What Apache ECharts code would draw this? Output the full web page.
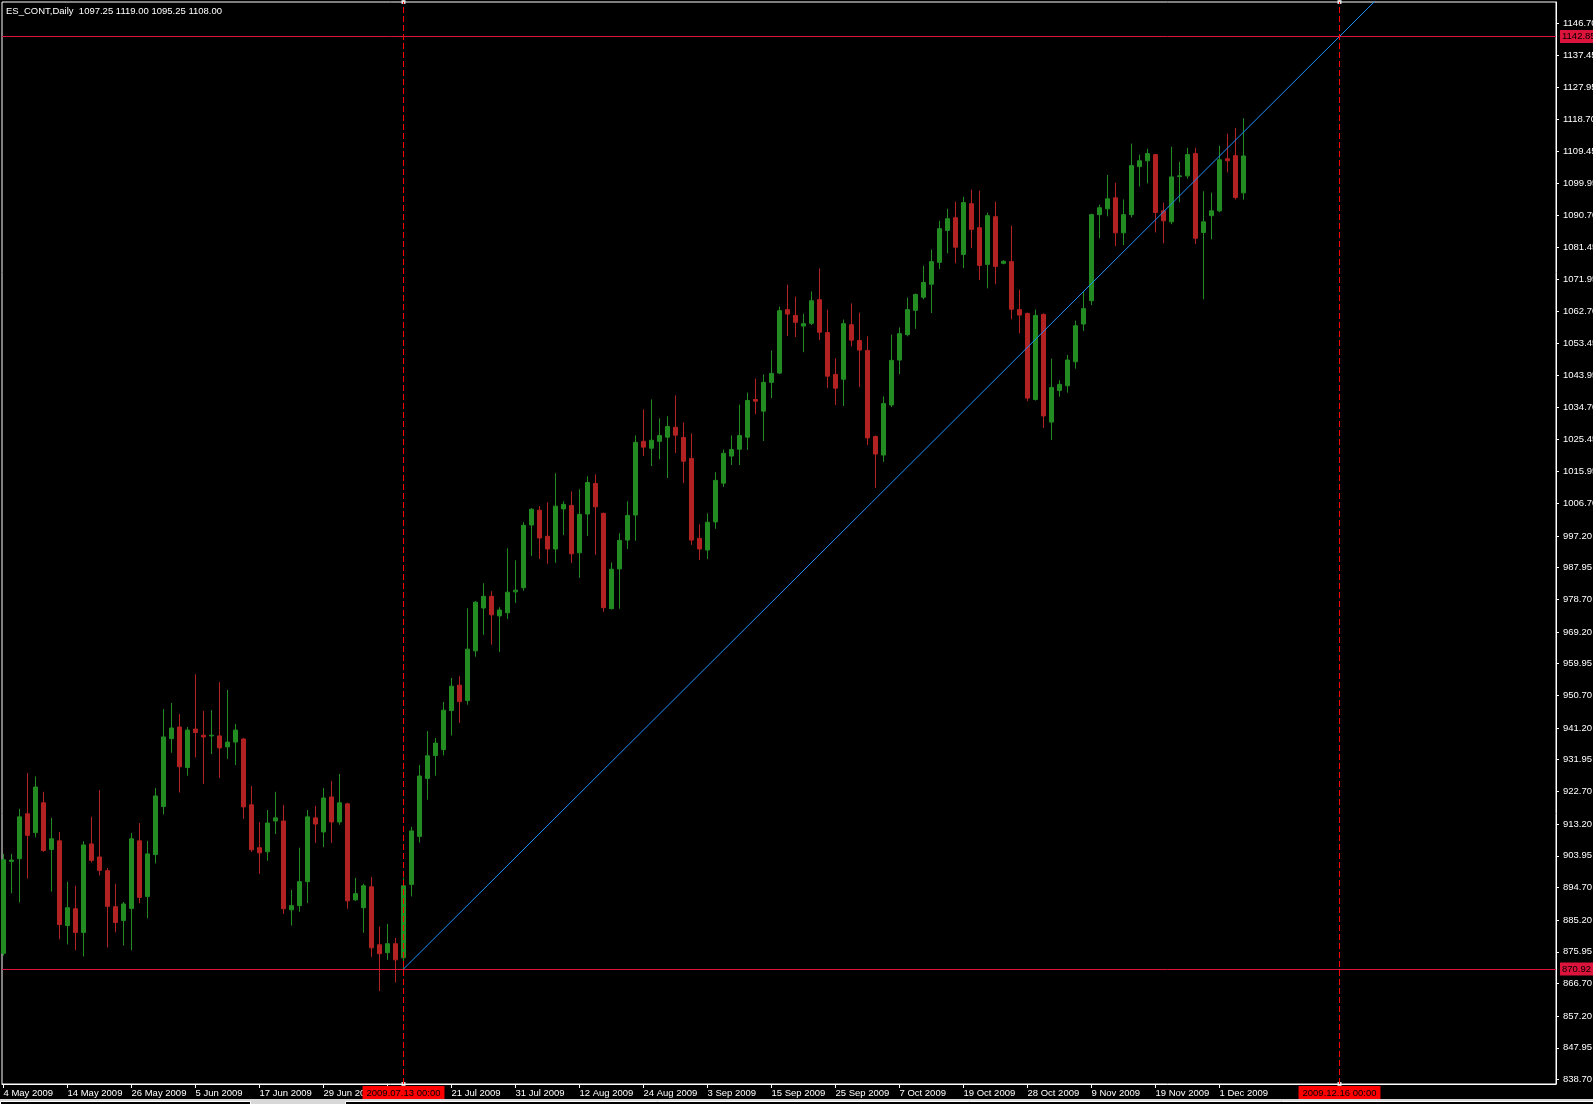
<!DOCTYPE html>
<html><head><meta charset="utf-8">
<script src="https://cdn.jsdelivr.net/npm/echarts@6/dist/echarts.min.js"></script>
<style>html,body{margin:0;padding:0;background:#000;}#c{width:1593px;height:1104px;}</style>
</head><body><div id="c"></div>
<script>
const symbolName = 'ES_CONT';
const timeframe = 'Daily';
const dates = [
'2009.05.04','2009.05.05','2009.05.06','2009.05.07','2009.05.08','2009.05.11','2009.05.12','2009.05.13','2009.05.14','2009.05.15',
'2009.05.18','2009.05.19','2009.05.20','2009.05.21','2009.05.22','2009.05.25','2009.05.26','2009.05.27','2009.05.28','2009.05.29',
'2009.06.01','2009.06.02','2009.06.03','2009.06.04','2009.06.05','2009.06.08','2009.06.09','2009.06.10','2009.06.11','2009.06.12',
'2009.06.15','2009.06.16','2009.06.17','2009.06.18','2009.06.19','2009.06.22','2009.06.23','2009.06.24','2009.06.25','2009.06.26',
'2009.06.29','2009.06.30','2009.07.01','2009.07.02','2009.07.03','2009.07.06','2009.07.07','2009.07.08','2009.07.09','2009.07.10',
'2009.07.13','2009.07.14','2009.07.15','2009.07.16','2009.07.17','2009.07.20','2009.07.21','2009.07.22','2009.07.23','2009.07.24',
'2009.07.27','2009.07.28','2009.07.29','2009.07.30','2009.07.31','2009.08.03','2009.08.04','2009.08.05','2009.08.06','2009.08.07',
'2009.08.10','2009.08.11','2009.08.12','2009.08.13','2009.08.14','2009.08.17','2009.08.18','2009.08.19','2009.08.20','2009.08.21',
'2009.08.24','2009.08.25','2009.08.26','2009.08.27','2009.08.28','2009.08.31','2009.09.01','2009.09.02','2009.09.03','2009.09.04',
'2009.09.07','2009.09.08','2009.09.09','2009.09.10','2009.09.11','2009.09.14','2009.09.15','2009.09.16','2009.09.17','2009.09.18',
'2009.09.21','2009.09.22','2009.09.23','2009.09.24','2009.09.25','2009.09.28','2009.09.29','2009.09.30','2009.10.01','2009.10.02',
'2009.10.05','2009.10.06','2009.10.07','2009.10.08','2009.10.09','2009.10.12','2009.10.13','2009.10.14','2009.10.15','2009.10.16',
'2009.10.19','2009.10.20','2009.10.21','2009.10.22','2009.10.23','2009.10.25','2009.10.26','2009.10.27','2009.10.28','2009.10.29',
'2009.10.30','2009.11.02','2009.11.03','2009.11.04','2009.11.05','2009.11.06','2009.11.09','2009.11.10','2009.11.11','2009.11.12',
'2009.11.13','2009.11.16','2009.11.17','2009.11.18','2009.11.19','2009.11.20','2009.11.23','2009.11.24','2009.11.25','2009.11.26',
'2009.11.27','2009.11.30','2009.12.01','2009.12.02','2009.12.03','2009.12.04'
];
const openP = [
875.5,902.3,903.1,916.2,910.7,919.4,905.8,908.3,883.6,888.5,
881.6,907.4,903.6,899.6,889.1,885.1,888.6,908.3,892.1,904.3,
918.3,938.1,941.5,929.7,940.9,939.1,938.9,938.9,935.7,937.1,
938.0,918.8,906.3,905.1,914.1,914.1,888.2,889.4,896.4,915.0,
910.9,921.1,913.8,919.1,891.1,888.8,894.9,878.0,875.7,878.3,
874.2,895.6,909.6,926.5,933.2,934.9,946.3,953.7,949.2,963.7,
976.2,979.6,973.9,974.8,980.9,982.1,1000.4,1004.7,997.1,993.4,
1005.1,1006.1,992.3,1003.6,1012.5,1003.8,976.0,987.6,996.0,1003.3,
1024.8,1022.8,1024.8,1026.0,1028.9,1025.9,1019.8,996.5,993.1,1001.3,
1012.6,1020.5,1022.5,1026.0,1037.0,1033.6,1042.0,1044.7,1063.2,1061.5,
1058.4,1059.2,1066.1,1056.5,1044.3,1042.9,1058.8,1054.2,1051.3,1026.2,
1020.8,1035.4,1048.5,1055.9,1063.0,1066.8,1070.6,1077.0,1086.3,1090.0,
1079.3,1094.1,1087.1,1076.4,1090.3,1076.7,1077.2,1063.2,1062.1,1037.0,
1061.8,1030.4,1039.6,1041.0,1048.0,1059.0,1065.8,1090.9,1092.6,1095.8,
1085.6,1090.9,1104.9,1106.6,1108.4,1092.0,1088.8,1102.0,1102.2,1108.7,
1085.7,1090.6,1092.0,1107.2,1108.1,1097.25
];
const highP = [
904.5,904.5,917.6,928.1,927.1,922.6,915.0,910.9,896.4,895.2,
908.2,915.3,923.1,900.4,895.8,890.5,910.6,913.5,908.3,923.7,
946.7,948.5,945.3,941.5,956.9,946.2,946.4,954.6,952.3,942.4,
938.3,924.3,913.8,917.3,922.6,918.8,894.0,906.3,917.3,918.5,
923.7,925.8,927.8,919.4,897.5,895.8,897.8,883.3,884.1,880.0,
897.6,912.4,930.4,940.3,938.3,948.8,955.8,956.3,976.1,978.2,
983.4,981.1,976.4,993.6,990.1,1001.2,1005.3,1005.9,1007.0,1015.5,
1007.3,1010.2,1010.8,1014.6,1015.2,1004.0,989.5,998.0,1007.3,1026.5,
1034.1,1037.0,1031.5,1032.1,1038.2,1030.3,1027.1,1000.6,1003.8,1015.8,
1022.4,1026.5,1035.5,1039.0,1043.1,1044.3,1051.3,1064.1,1070.5,1067.0,
1062.0,1068.5,1075.2,1063.2,1049.0,1060.3,1065.0,1062.3,1055.4,1026.5,
1037.9,1055.9,1058.0,1066.7,1067.9,1076.0,1080.7,1089.1,1092.6,1094.7,
1096.1,1098.2,1097.9,1091.5,1094.7,1077.6,1087.7,1069.0,1062.3,1063.2,
1062.1,1048.9,1042.6,1050.0,1060.0,1068.4,1091.2,1093.8,1102.5,1100.2,
1095.3,1111.6,1108.4,1110.1,1108.6,1094.4,1110.7,1106.3,1110.4,1110.4,
1097.7,1097.3,1111.0,1114.5,1116.2,1119.00
];
const lowP = [
874.8,893.0,890.3,897.3,909.3,905.1,893.5,879.6,878.1,876.4,
874.6,902.0,898.2,877.2,881.6,877.8,876.4,890.1,885.7,901.7,
916.0,934.0,922.4,927.3,932.6,924.9,933.6,926.6,932.2,930.4,
914.7,905.1,898.7,902.5,910.3,887.0,883.6,887.6,890.2,907.7,
906.5,907.7,913.0,888.5,890.8,881.5,874.5,864.5,873.6,867.0,
870.92,892.1,907.8,920.3,927.3,933.2,939.0,942.7,948.0,962.0,
968.4,965.5,963.4,973.0,977.7,981.2,991.4,990.5,989.1,989.4,
997.5,989.3,985.0,997.2,991.7,975.1,975.8,976.0,993.4,995.8,
1020.5,1017.6,1019.6,1014.1,1021.4,1012.6,994.6,990.2,990.5,999.3,
1011.5,1017.9,1017.9,1022.3,1032.7,1024.9,1037.4,1044.4,1055.5,1055.2,
1050.8,1058.7,1054.3,1040.3,1035.4,1035.1,1052.5,1040.6,1023.7,1011.2,
1018.8,1034.8,1044.4,1055.4,1057.6,1066.2,1062.2,1075.0,1079.6,1076.7,
1075.3,1081.1,1071.8,1069.4,1070.6,1076.4,1060.4,1056.3,1036.5,1036.7,
1028.7,1025.2,1037.8,1039.0,1046.0,1057.0,1064.5,1084.0,1090.4,1081.7,
1082.0,1090.1,1099.1,1100.0,1085.7,1082.5,1088.1,1094.5,1101.4,1082.3,
1066.2,1083.7,1091.6,1103.2,1095.3,1095.25
];
const closeP = [
902.8,902.7,915.3,909.9,924.0,905.5,908.9,883.9,888.8,881.6,
907.1,902.6,899.7,889.2,884.5,889.9,908.9,891.8,904.5,921.4,
938.6,941.2,929.9,940.6,939.9,938.6,939.1,935.4,937.1,940.6,
918.2,905.7,904.8,913.5,915.0,888.5,889.4,896.4,915.3,913.2,
920.8,913.8,919.4,890.8,892.9,895.2,877.1,875.4,878.3,873.6,
895.2,911.2,927.2,933.1,936.8,946.4,953.4,948.9,964.2,977.9,
979.6,974.2,975.6,980.8,981.4,1000.3,1005.0,996.6,993.4,1005.9,
1006.4,992.0,1003.5,1012.8,1005.7,976.3,987.5,995.9,1003.2,1024.5,
1023.1,1025.1,1026.5,1029.1,1026.6,1019.0,996.0,993.4,1001.2,1013.4,
1021.3,1022.4,1026.5,1036.7,1036.5,1042.0,1044.6,1062.9,1061.9,1059.5,
1059.1,1065.8,1056.6,1043.8,1040.3,1059.1,1054.3,1051.4,1025.8,1021.1,
1035.8,1048.4,1056.2,1063.2,1067.6,1071.1,1077.2,1086.8,1089.7,1081.4,
1094.4,1086.6,1076.1,1090.6,1075.8,1077.3,1063.3,1061.6,1037.4,1061.5,
1032.2,1040.5,1041.4,1048.5,1058.5,1063.5,1090.9,1092.9,1095.5,1085.6,
1090.9,1105.2,1106.6,1108.7,1091.5,1089.1,1101.9,1102.2,1108.4,1084.0,
1088.8,1092.0,1106.9,1106.6,1095.9,1108.00
];
const xTickIdx = [0,8,16,24,32,40,48,56,64,72,80,88,96,104,112,120,128,136,144,152];
const yTickLabels = [838.70,847.95,857.20,866.70,875.95,885.20,894.70,903.95,913.20,922.70,931.95,941.20,950.70,959.95,969.20,978.70,987.95,997.20,1006.70,1015.95,1025.45,1034.70,1043.95,1053.45,1062.70,1071.95,1081.45,1090.70,1099.95,1109.45,1118.70,1127.95,1137.45,1146.70];
const hLevels = [1142.85, 870.92];
const trendStart = {date: '2009.07.13', price: 870.92};
const trendEnd = {date: '2009.12.16', price: 1142.85};
const vLines = ['2009.07.13', '2009.12.16'];

// ---- helpers ----
const months = ['Jan','Feb','Mar','Apr','May','Jun','Jul','Aug','Sep','Oct','Nov','Dec'];
function toDate(s){const p=s.split('.');return Date.UTC(+p[0],+p[1]-1,+p[2]);}
function dateIndex(s){
  const k = dates.indexOf(s);
  if (k >= 0) return k;
  const last = dates.length - 1;
  return last + Math.round((toDate(s) - toDate(dates[last])) / 86400000);
}
function fmtLabel(s){const p=s.split('.');return (+p[2])+' '+months[+p[1]-1]+' '+p[0];}

const FONT = 'Liberation Sans';
const FS = 9.5;
const gridL = 2, gridT = 2, gridW = 1554, gridH = 1082;
const barStep = 8;
const xMin = -(1.5 / barStep);
const xMax = xMin + gridW / barStep;
const yMin = 837.4, yMax = 1152.9;

const candles = dates.map((d, i) => [i, openP[i], closeP[i], lowP[i], highP[i]]);

const t0 = dateIndex(trendStart.date), t1 = dateIndex(trendEnd.date);
const slope = (trendEnd.price - trendStart.price) / (t1 - t0);
const trendData = [[t0, trendStart.price], [t1, trendEnd.price], [xMax, trendEnd.price + slope * (xMax - t1)]];

const last = dates.length - 1;
const axisLblStyle = {color: '#000', fontFamily: FONT, fontSize: FS, padding: [2, 3, 1, 2]};

const markLineData = [
  ...hLevels.map(v => ({yAxis: v, lineStyle: {color: '#dc143c', width: 1, type: 'solid'},
    label: Object.assign({show: true, position: 'end', distance: 4, formatter: v.toFixed(2), backgroundColor: '#dc143c'}, axisLblStyle)})),
  {yAxis: closeP[last], lineStyle: {opacity: 0},
    label: Object.assign({show: true, position: 'end', distance: 4, formatter: closeP[last].toFixed(2), backgroundColor: '#ffffff'}, axisLblStyle)},
  ...vLines.map(d => ({xAxis: dateIndex(d), lineStyle: {color: '#ff0000', width: 1, type: [6, 3]},
    label: Object.assign({show: true, position: 'start', distance: 2, formatter: d + ' 00:00', backgroundColor: '#ff0000'}, axisLblStyle, {padding: [2, 4, 1, 4]})}))
];

const handles = [];
vLines.forEach(d => { handles.push([dateIndex(d), yMax]); handles.push([dateIndex(d), yMin]); });

const chart = echarts.init(document.getElementById('c'), null, {renderer: 'canvas'});
chart.setOption({
  animation: false,
  backgroundColor: '#000',
  grid: {left: gridL, top: gridT, width: gridW, height: gridH, show: true, borderColor: '#ffffff', borderWidth: 1,
    backgroundColor: '#000', containLabel: false, outerBoundsMode: 'none'},
  xAxis: {
    type: 'value', min: xMin, max: xMax,
    axisLine: {show: true, onZero: false, lineStyle: {color: '#ffffff', width: 1}},
    splitLine: {show: false},
    axisTick: {show: true, customValues: xTickIdx, length: 4, lineStyle: {color: '#ffffff'}},
    axisLabel: {show: true, customValues: xTickIdx, formatter: v => fmtLabel(dates[Math.round(v)]),
      color: '#ffffff', fontFamily: FONT, fontSize: FS, align: 'left', margin: 4}
  },
  yAxis: {
    type: 'value', position: 'right', min: yMin, max: yMax, scale: true,
    axisLine: {show: true, onZero: false, lineStyle: {color: '#ffffff', width: 1}},
    splitLine: {show: false},
    axisTick: {show: true, customValues: yTickLabels, length: 3, lineStyle: {color: '#ffffff'}},
    axisLabel: {show: true, customValues: yTickLabels, formatter: v => v.toFixed(2),
      color: '#ffffff', fontFamily: FONT, fontSize: FS, margin: 7}
  },
  series: [
    {
      type: 'candlestick', name: symbolName, data: candles,
      encode: {x: 0, y: [1, 2, 3, 4]},
      barWidth: 4,
      itemStyle: {color: '#228b22', color0: '#b22222', borderColor: '#228b22', borderColor0: '#b22222', borderWidth: 1},
      markLine: {silent: true, symbol: ['none', 'none'], animation: false, data: markLineData}
    },
    {
      type: 'line', name: 'trend', data: trendData, symbol: 'none', silent: true,
      lineStyle: {color: '#1e90ff', width: 1}, z: 3
    },
    {
      type: 'scatter', name: 'handles', data: handles, symbol: 'rect', symbolSize: 4, clip: false, silent: true,
      itemStyle: {color: '#ffffff'}, z: 1
    }
  ],
  graphic: [
    {type: 'text', left: 6, top: 6, z: 10, style: {
      text: symbolName + ',' + timeframe + '  ' + [openP[last], highP[last], lowP[last], closeP[last]].map(v => v.toFixed(2)).join(' '),
      fill: '#ffffff', font: FS + 'px "' + FONT + '"'}},
    {type: 'rect', left: 0, top: 1099, z: 10, shape: {width: 1593, height: 5}, style: {fill: '#d8d8d8'}},
    {type: 'rect', left: 0, top: 1101, z: 11, shape: {width: 250, height: 3}, style: {fill: '#000', stroke: '#ffffff', lineWidth: 1}},
    {type: 'rect', left: 345, top: 1101, z: 11, shape: {width: 1248, height: 3}, style: {fill: '#000', stroke: '#ffffff', lineWidth: 1}}
  ]
});
</script>
</body></html>
